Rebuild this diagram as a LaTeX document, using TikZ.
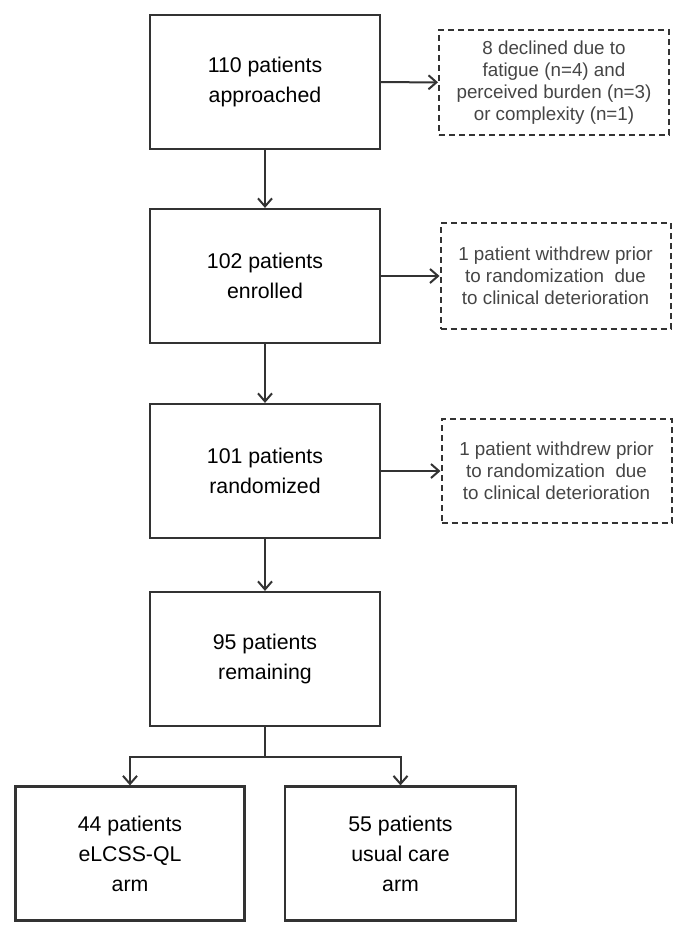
\documentclass[tikz,border=0pt]{standalone}
\usepackage{fontspec}
\setmainfont{Liberation Sans}
\usetikzlibrary{positioning,calc,arrows.meta}
\definecolor{linegray}{HTML}{333333}
\definecolor{notegray}{HTML}{454545}
\tikzset{
  stage/.style={draw=linegray,line width=2.2pt,minimum width=230pt,
    minimum height=134pt,align=center,font=\fontsize{21.3}{30}\selectfont},
  note/.style={draw=linegray,line width=2pt,dash pattern=on 6pt off 4pt,
    minimum width=230pt,minimum height=105pt,align=center,text=notegray,
    font=\fontsize{18.8}{22}\selectfont},
  flow/.style={draw=linegray,line width=2pt,
    -{Straight Barb[length=8pt,width=14pt]}}
}
\begin{document}
\begin{tikzpicture}[x=1pt,y=-1pt]
\useasboundingbox (0,0) rectangle (687,934);
% Main stages of the flow
\node[stage] (appr) at (265,82) {110 patients\\approached};
\node[stage] (enrol) at (265,276) {102 patients\\enrolled};
\node[stage] (rand) at (265,471) {101 patients\\randomized};
\node[stage] (remain) at (265,659) {95 patients\\remaining};
\node[stage,minimum width=229pt] (armA) at (130,853.5) {44 patients\\eLCSS-QL\\arm};
\node[stage,minimum width=231pt] (armB) at (400.5,853.5) {55 patients\\usual care\\arm};
% Exclusions on the right
\node[note] (decl) at (554,82.5) {8 declined due to\\fatigue (n=4) and\\perceived burden (n=3)\\or complexity (n=1)};
\node[note,minimum height=106pt] (wdA) at (555.5,276) {1 patient withdrew prior\\to randomization\ \ due\\to clinical deterioration};
\node[note,minimum height=104pt] (wdB) at (556.5,471) {1 patient withdrew prior\\to randomization\ \ due\\to clinical deterioration};
%% Arrows down and to the side
\draw[flow] (appr) -- (enrol);
\draw[flow] (enrol) -- (rand);
\draw[flow] (rand) -- (remain);
\draw[flow] (appr) -- (decl);
\draw[flow] (enrol) -- (wdA);
\draw[flow] (rand) -- (wdB);
%% Split into the two arms
\coordinate (split) at ($(remain.south)+(0,30)$);
\draw[draw=linegray,line width=2pt] (remain) -- (split);
\draw[flow] (split) -| (armA.north);
\draw[flow] (split) -| (armB.north);
\end{tikzpicture}
\end{document}
